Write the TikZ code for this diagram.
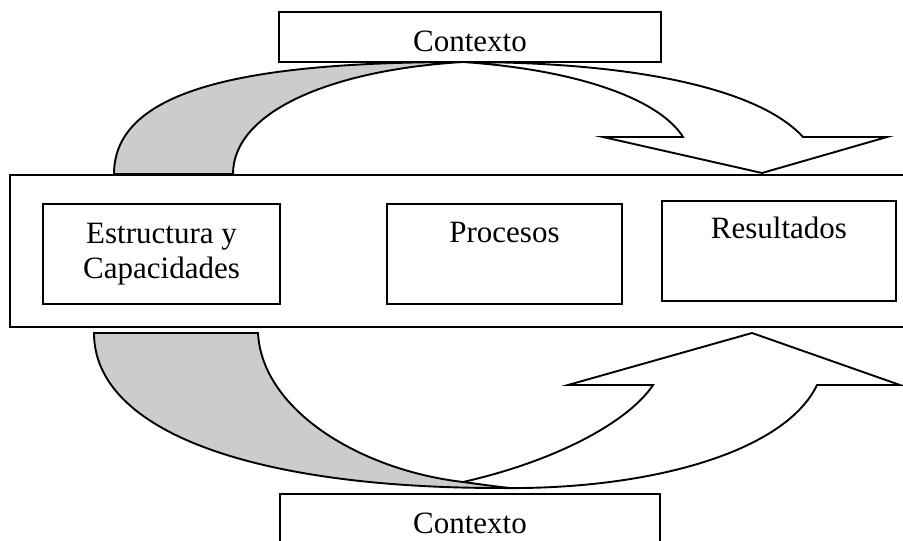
\documentclass[tikz,border=0pt]{standalone}
\usepackage{fontspec}
\setmainfont{Liberation Serif}
\definecolor{bandgray}{RGB}{204,204,204}
\begin{document}
\begin{tikzpicture}[x=0.5pt,y=-0.5pt,
  box/.style={draw, line width=1.1pt, fill=white, inner sep=0pt},
  lbl/.style={font=\fontsize{15.5}{17.5}\selectfont, inner sep=0pt, anchor=base},
  band/.style={draw, line width=0.95pt, line join=miter}]
\useasboundingbox (0,0) rectangle (903,540);

% top curved arrow: front (white) face
\path[band, fill=white] (463,62) .. controls (640,62) and (760,90) .. (803,137)
  -- (887,137) -- (762,173) -- (603,137) -- (683,137)
  .. controls (660,100) and (580,70) .. (463,62) -- cycle;
% top curved arrow: back (gray) face
\path[band, fill=bandgray] (114,174) .. controls (114,88) and (250,62) .. (463,62)
  .. controls (330,70) and (233,112) .. (233,174) -- cycle;

% bottom curved arrow: front (white) face
\path[band, fill=white] (463,482) .. controls (560,460) and (630,420) .. (653,385)
  -- (568,385) -- (752,333) -- (900,385) -- (817,385)
  .. controls (785,452) and (650,490) .. (500,488) -- cycle;
% bottom curved arrow: back (gray) face
\path[band, fill=bandgray] (94,333) -- (258,333)
  .. controls (262,410) and (360,470) .. (463,482)
  .. controls (485,485) and (500,487) .. (510,488) -- (500,488)
  .. controls (250,488) and (94,430) .. (94,333) -- cycle;

% boxes
\node[box, minimum width=450pt, minimum height=76pt] (main) at (460,251) {};
\node[box, minimum width=191pt, minimum height=25pt] (ctop) at (470,37) {};
\node[box, minimum width=190pt, minimum height=25.5pt] (cbot) at (470,519.5) {};
\node[box, minimum width=118.5pt, minimum height=50pt] (est) at (161.5,254) {};
\node[box, minimum width=117.5pt, minimum height=50pt] (pro) at (504.5,254) {};
\node[box, minimum width=117pt, minimum height=50pt] (res) at (779,251) {};

% labels
\node[lbl] (ltop) at (470,52) {Contexto};
\node[lbl] (lbot) at (470,533) {Contexto};
\node[lbl] (lest1) at (161.5,243) {Estructura y};
\node[lbl] (lest2) at (161.5,278) {Capacidades};
\node[lbl] (lpro) at (504.5,242) {Procesos};
\node[lbl] (lres) at (779,238) {Resultados};
\end{tikzpicture}
\end{document}
